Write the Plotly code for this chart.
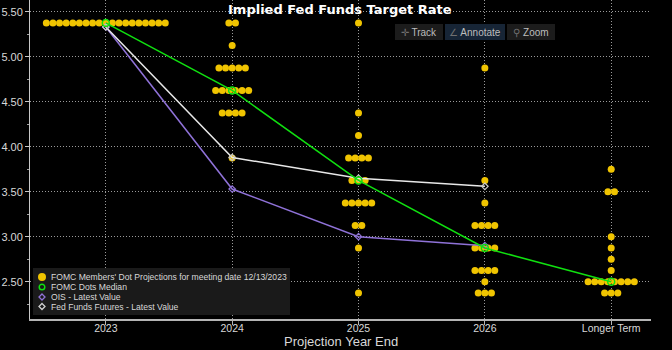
import plotly.graph_objects as go

# ---------------- data ----------------
categories = ["2023", "2024", "2025", "2026", "Longer Term"]

dot_levels_2023 = [5.375]
dot_counts_2023 = [19]
dot_levels_2024 = [5.375, 5.125, 4.875, 4.625, 4.375, 3.875]
dot_counts_2024 = [2, 1, 5, 6, 4, 1]
dot_levels_2025 = [5.375, 4.375, 4.125, 3.875, 3.625, 3.375, 3.125, 2.875, 2.375]
dot_counts_2025 = [1, 1, 1, 4, 3, 5, 2, 1, 1]
dot_levels_2026 = [4.875, 3.625, 3.375, 3.125, 2.875, 2.625, 2.5, 2.375]
dot_counts_2026 = [1, 1, 1, 4, 4, 4, 1, 3]
dot_levels_lt = [3.75, 3.5, 3.0, 2.875, 2.75, 2.625, 2.5, 2.375]
dot_counts_lt = [1, 2, 1, 1, 1, 1, 8, 3]

median_values = [5.375, 4.625, 3.625, 2.875, 2.5]
ois_values = [5.33, 3.53, 3.00, 2.90]
fff_values = [5.33, 3.88, 3.65, 3.56]

y_tick_values = [2.5, 3.0, 3.5, 4.0, 4.5, 5.0, 5.5]

series_names = [
    "FOMC Members' Dot Projections for meeting date 12/13/2023",
    "FOMC Dots Median",
    "OIS - Latest Value",
    "Fed Funds Futures - Latest Value",
]

# ---------------- styles ----------------
W, H = 672, 350
ML, MR, MT, MB = 30, 21, 0, 31
X_RANGE = [-0.6, 4.315]
Y_RANGE = [2.0856, 5.63]
DX = 0.0523  # horizontal spacing between stacked dots (category units)

YELLOW = "#F0C400"
GREEN = "#10E010"
PURPLE = "#8F72D8"
WHITE = "#E8E8E8"
TEXT = "#D8D8D8"
GRID = "#9A9A9A"
FONT = "Liberation Sans, Arial, sans-serif"

PW = W - ML - MR
PH = H - MT - MB


def pxx(px):
    return (px - ML) / PW


def pxy(py):
    return (MT + PH - py) / PH


dot_sets = [
    (dot_levels_2023, dot_counts_2023),
    (dot_levels_2024, dot_counts_2024),
    (dot_levels_2025, dot_counts_2025),
    (dot_levels_2026, dot_counts_2026),
    (dot_levels_lt, dot_counts_lt),
]

dx_list, dy_list = [], []
for i, (levels, counts) in enumerate(dot_sets):
    for lvl, n in zip(levels, counts):
        for k in range(n):
            dx_list.append(i + (k - (n - 1) / 2) * DX)
            dy_list.append(lvl)

xi = list(range(len(categories)))

fig = go.Figure()
fig.add_trace(go.Scatter(
    x=dx_list, y=dy_list, mode="markers", name=series_names[0],
    marker=dict(color=YELLOW, size=7, line=dict(width=0)),
))
fig.add_trace(go.Scatter(
    x=xi[:len(ois_values)], y=ois_values, mode="lines+markers", name=series_names[2],
    line=dict(color=PURPLE, width=1.5),
    marker=dict(symbol="diamond-open", size=5, color=PURPLE, line=dict(width=1.2)),
))
fig.add_trace(go.Scatter(
    x=xi[:len(fff_values)], y=fff_values, mode="lines+markers", name=series_names[3],
    line=dict(color=WHITE, width=1.5),
    marker=dict(symbol="diamond-open", size=5, color="#C8C8C8", line=dict(width=1.2)),
))
fig.add_trace(go.Scatter(
    x=xi, y=median_values, mode="lines+markers", name=series_names[1],
    line=dict(color=GREEN, width=1.5),
    marker=dict(symbol="circle-open", size=7, color=GREEN, line=dict(width=1.5)),
))

# ---------------- manual legend ----------------
shapes = [dict(type="rect", xref="paper", yref="paper", layer="above",
               x0=pxx(33), x1=pxx(290), y0=pxy(315), y1=pxy(268),
               fillcolor="#1A1A1A", line=dict(width=0))]
annotations = []
leg_y = [277, 287, 297, 306.5]
mx = pxx(42)
shapes.append(dict(type="circle", xref="paper", yref="paper", layer="above",
                   xsizemode="pixel", ysizemode="pixel", xanchor=mx, yanchor=pxy(leg_y[0]),
                   x0=-4, x1=4, y0=-4, y1=4, fillcolor=YELLOW, line=dict(width=0)))
shapes.append(dict(type="circle", xref="paper", yref="paper", layer="above",
                   xsizemode="pixel", ysizemode="pixel", xanchor=mx, yanchor=pxy(leg_y[1]),
                   x0=-2.8, x1=2.8, y0=-2.8, y1=2.8, fillcolor="rgba(0,0,0,0)",
                   line=dict(color=GREEN, width=1.5)))
shapes.append(dict(type="path", xref="paper", yref="paper", layer="above",
                   xsizemode="pixel", ysizemode="pixel", xanchor=mx, yanchor=pxy(leg_y[2]),
                   path="M0,3 L3,0 L0,-3 L-3,0 Z", fillcolor="rgba(0,0,0,0)",
                   line=dict(color=PURPLE, width=1.3)))
shapes.append(dict(type="path", xref="paper", yref="paper", layer="above",
                   xsizemode="pixel", ysizemode="pixel", xanchor=mx, yanchor=pxy(leg_y[3]),
                   path="M0,3 L3,0 L0,-3 L-3,0 Z", fillcolor="rgba(0,0,0,0)",
                   line=dict(color="#D0D0D0", width=1.3)))
for name, yy in zip(series_names, leg_y):
    annotations.append(dict(text=name, xref="paper", yref="paper", x=pxx(49), y=pxy(yy),
                            xanchor="left", yanchor="middle", showarrow=False,
                            font=dict(family=FONT, size=8.6, color=TEXT)))

# ---------------- title & axis title ----------------
annotations.append(dict(text="<b>Implied Fed Funds Target Rate</b>", xref="paper", yref="paper",
                        x=pxx(340), y=pxy(9), xanchor="center", yanchor="middle",
                        showarrow=False, font=dict(family="DejaVu Sans, sans-serif", size=13, color="#FFFFFF")))
annotations.append(dict(text="Projection Year End", xref="paper", yref="paper",
                        x=pxx(340.5), y=pxy(341.5), xanchor="center", yanchor="middle",
                        showarrow=False, font=dict(family=FONT, size=13, color=TEXT)))

# ---------------- toolbar ----------------
tools = [("✛", "Track", 419, 46, "#1C1C1C"),
         ("∠", "Annotate", 475, 58, "#172536"),
         ("⚲", "Zoom", 531, 46, "#1C1C1C")]
for icon, label, cx, w, bg in tools:
    annotations.append(dict(
        text=f'<span style="color:#707070">{icon}</span> {label}',
        xref="paper", yref="paper", x=pxx(cx), y=pxy(32), xanchor="center", yanchor="middle",
        showarrow=False, width=w, height=14, borderpad=1, bgcolor=bg, borderwidth=0,
        font=dict(family=FONT, size=10, color="#BDBDBD")))

fig.update_layout(
    width=W, height=H,
    margin=dict(l=ML, r=MR, t=MT, b=MB, pad=0),
    paper_bgcolor="#000000", plot_bgcolor="#000000",
    showlegend=False,
    shapes=shapes, annotations=annotations,
    xaxis=dict(
        range=X_RANGE, tickmode="array", tickvals=xi, ticktext=categories,
        showgrid=True, gridcolor=GRID, gridwidth=1, griddash="1px,2px",
        zeroline=False, showline=True, linecolor="#B4B4B4", linewidth=1.5,
        ticks="outside", ticklen=4, tickcolor="#B4B4B4", ticklabelstandoff=-5,
        tickfont=dict(family=FONT, size=10.5, color=TEXT), fixedrange=True,
    ),
    yaxis=dict(
        range=Y_RANGE, tickmode="array", tickvals=y_tick_values,
        tickformat=".2f",
        showgrid=True, gridcolor=GRID, gridwidth=1, griddash="1px,2px",
        zeroline=False, showline=True, linecolor="#C8C8C8", linewidth=1,
        ticks="outside", ticklen=4, tickcolor="#C8C8C8",
        minor=dict(dtick=0.25, tick0=2.25, ticks="outside", ticklen=2, tickcolor="#A0A0A0", showgrid=False),
        tickfont=dict(family=FONT, size=11, color=TEXT), fixedrange=True,
    ),
)

fig.write_html("out.html", config={"displayModeBar": False})
